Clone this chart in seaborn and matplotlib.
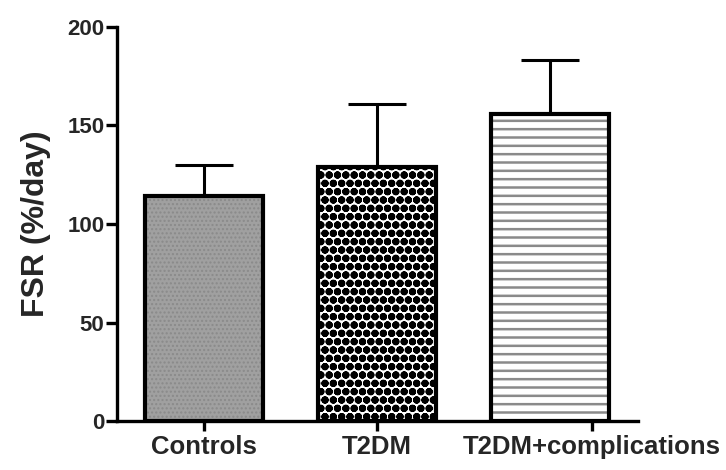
import matplotlib
matplotlib.use("Agg")
import matplotlib.pyplot as plt
import seaborn as sns
import pandas as pd
import numpy as np

categories = ["Controls", "T2DM", "T2DM+complications"]
means = [114, 129, 156]
sd = [16, 32, 27]
yticks = [0, 50, 100, 150, 200]

sns.set_theme(style="ticks")
plt.rcParams['font.family'] = ['Liberation Sans', 'DejaVu Sans']

df = pd.DataFrame({"group": categories, "fsr": means})

fig = plt.figure(figsize=(7.26, 4.70), dpi=100)
ax = fig.add_axes([0.161, 0.104, 0.718, 0.839])

# hatched fills (hatch colour follows edgecolor)
sns.barplot(data=df, x="group", y="fsr", order=categories, width=0.68,
            errorbar=None, ax=ax, color="white", linewidth=0, zorder=2)
fills = ["#a0a0a0", "white", "white"]
hcols = ["#8a8a8a", "black", "#8a8a8a"]
hatches = ["....", "oo", "--"]
hlw = [1.0, 2.8, 1.8]
for p, fc, hc, h, lw in zip(ax.patches, fills, hcols, hatches, hlw):
    p.set_facecolor(fc)
    p.set_edgecolor(hc)
    p.set_hatch(h)
    p.set_linewidth(0)
    p._hatch_linewidth = lw

# outlines
sns.barplot(data=df, x="group", y="fsr", order=categories, width=0.68,
            errorbar=None, ax=ax, fill=False, edgecolor="black",
            linewidth=3.0, zorder=3)

# error bars (upper only)
xpos = np.arange(len(categories))
ax.errorbar(xpos, means, yerr=[np.zeros(len(sd)), sd], fmt="none",
            ecolor="black", elinewidth=2.2, capsize=21, capthick=2.2, zorder=1)

ax.set_ylim(0, 200)
ax.set_xlim(-0.503, 2.51)
ax.set_yticks(yticks)
ax.set_yticklabels([str(t) for t in yticks], fontsize=16, fontweight="bold")
ax.set_xticks([0, 1, 2.243])
ax.set_xticklabels(categories, fontsize=18.5, fontweight="bold")
ax.set_xlabel("")
ax.set_ylabel("FSR (%/day)", fontsize=23, fontweight="bold", labelpad=12)

for s in ["top", "right"]:
    ax.spines[s].set_visible(False)
for s in ["left", "bottom"]:
    ax.spines[s].set_linewidth(2.4)
    ax.spines[s].set_color("black")
ax.tick_params(axis="both", width=2.4, length=8, color="black", pad=1)
ax.tick_params(axis="x", length=7, pad=3)

fig.savefig("out.png", dpi=100)
